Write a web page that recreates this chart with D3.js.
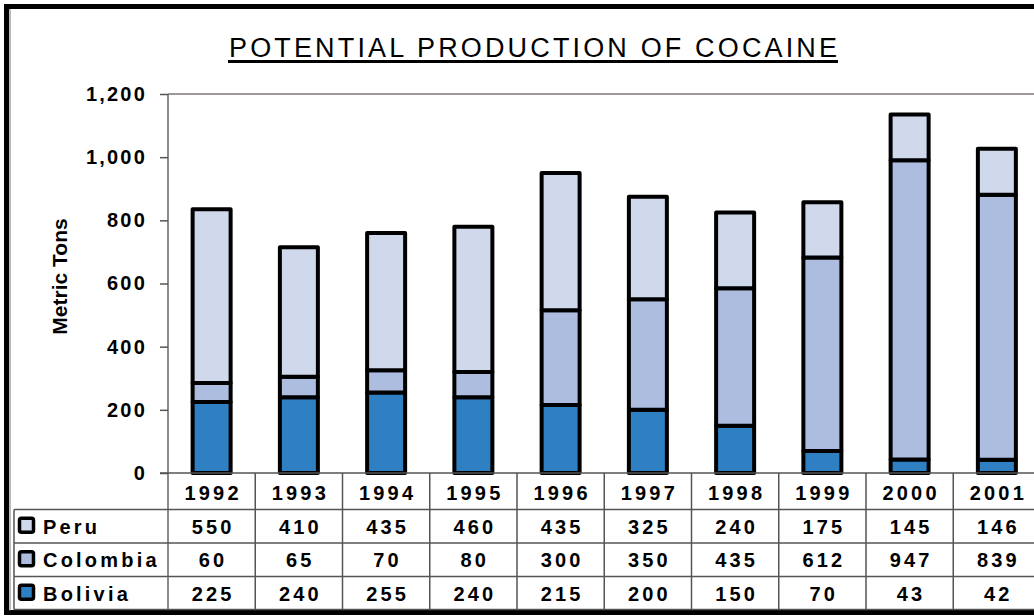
<!DOCTYPE html>
<html>
<head>
<meta charset="utf-8">
<script src="https://cdn.jsdelivr.net/npm/d3@7"></script>
<style>
  body { margin: 0; background: #fff; }
  svg { display: block; font-family: "Liberation Sans", Arial, sans-serif; }
</style>
</head>
<body>
<div id="chart"></div>
<script>
// data
var years = ["1992", "1993", "1994", "1995", "1996", "1997", "1998", "1999", "2000", "2001"];
var peru = [550, 410, 435, 460, 435, 325, 240, 175, 145, 146];
var colombia = [60, 65, 70, 80, 300, 350, 435, 612, 947, 839];
var bolivia = [225, 240, 255, 240, 215, 200, 150, 70, 43, 42];
var yTicks = [0, 200, 400, 600, 800, 1000, 1200];

// table rows top->bottom, stack order bottom->top
var rows = [
  { name: "Peru", values: peru, color: "#d0d8ec" },
  { name: "Colombia", values: colombia, color: "#adbde0" },
  { name: "Bolivia", values: bolivia, color: "#2f80c2" }
];

var W = 1034, H = 616;
var pLeft = 168, pRight = 1040.5, pTop = 94, pBottom = 473;

var svg = d3.select("#chart").append("svg").attr("width", W).attr("height", H);

var x = d3.scaleBand().domain(years).range([pLeft, pRight]).paddingInner(0).paddingOuter(0);
var y = d3.scaleLinear().domain([0, 1200]).range([pBottom, pTop]);

// outer frame
svg.append("rect").attr("x", 6.5).attr("y", 6.5).attr("width", W + 20).attr("height", 606)
  .attr("fill", "none").attr("stroke", "#000").attr("stroke-width", 5);
svg.append("line").attr("x1", 10).attr("x2", 10).attr("y1", 9).attr("y2", 611)
  .attr("stroke", "#777").attr("stroke-width", 1);

// title
svg.append("text").attr("x", 533).attr("y", 57).attr("text-anchor", "middle")
  .attr("font-size", 27).attr("textLength", 608).attr("lengthAdjust", "spacing")
  .text("POTENTIAL PRODUCTION OF COCAINE");
svg.append("line").attr("x1", 228).attr("x2", 838).attr("y1", 61.5).attr("y2", 61.5)
  .attr("stroke", "#000").attr("stroke-width", 3);

// plot frame
svg.append("line").attr("x1", pLeft).attr("x2", pRight).attr("y1", pTop).attr("y2", pTop)
  .attr("stroke", "#a09898").attr("stroke-width", 2);
svg.append("line").attr("x1", pLeft).attr("x2", pLeft).attr("y1", pTop).attr("y2", 609)
  .attr("stroke", "#666").attr("stroke-width", 1.5);

// y axis
var yAxis = d3.axisLeft(y).tickValues(yTicks).tickSize(8).tickFormat(d3.format(","));
var gy = svg.append("g").attr("transform", "translate(" + pLeft + ",0)").call(yAxis);
gy.select(".domain").remove();
gy.selectAll(".tick line").attr("stroke", "#555").attr("stroke-width", 1.5);
gy.selectAll(".tick text").attr("x", -21).attr("font-size", 20).attr("font-weight", "bold")
  .attr("letter-spacing", 2.2).attr("fill", "#000")
  .attr("font-family", "'Liberation Sans', Arial, sans-serif");

svg.append("text").attr("transform", "translate(67," + ((pTop + pBottom) / 2 - 7) + ") rotate(-90)")
  .attr("text-anchor", "middle").attr("font-size", 21).attr("font-weight", "bold")
  .text("Metric Tons");

// stacked bars
var stackData = years.map(function (yr, i) {
  return { year: yr, Bolivia: bolivia[i], Colombia: colombia[i], Peru: peru[i] };
});
var series = d3.stack().keys(["Bolivia", "Colombia", "Peru"])(stackData);
var colorOf = { Bolivia: "#2f80c2", Colombia: "#adbde0", Peru: "#d0d8ec" };
var bw = 38;

svg.append("g").selectAll("g").data(series).enter().append("g")
  .attr("fill", function (s) { return colorOf[s.key]; })
  .selectAll("rect").data(function (s) { return s; }).enter().append("rect")
  .attr("x", function (d) { return x(d.data.year) + x.bandwidth() / 2 - bw / 2; })
  .attr("width", bw)
  .attr("y", function (d) { return y(d[1]); })
  .attr("height", function (d) { return y(d[0]) - y(d[1]); })
  .attr("stroke", "#000").attr("stroke-width", 4).attr("stroke-linejoin", "round");

// x axis line
svg.append("line").attr("x1", 160).attr("x2", pRight).attr("y1", pBottom).attr("y2", pBottom)
  .attr("stroke", "#555").attr("stroke-width", 1.5);

// data table
var rowTop = [509.5, 543, 576.5];
var rowH = 33.3;
var tableLeft = 14;

rowTop.concat([609.5]).forEach(function (ry) {
  svg.append("line").attr("x1", tableLeft).attr("x2", pRight).attr("y1", ry).attr("y2", ry)
    .attr("stroke", "#555").attr("stroke-width", 1.5);
});
svg.append("line").attr("x1", tableLeft).attr("x2", tableLeft).attr("y1", 509.5).attr("y2", 609.5)
  .attr("stroke", "#555").attr("stroke-width", 1.5);
years.forEach(function (yr) {
  svg.append("line").attr("x1", x(yr) + x.bandwidth()).attr("x2", x(yr) + x.bandwidth())
    .attr("y1", pBottom).attr("y2", 609.5).attr("stroke", "#555").attr("stroke-width", 1.5);
});

// year header
svg.append("g").selectAll("text").data(years).enter().append("text")
  .attr("x", function (d) { return x(d) + x.bandwidth() / 2 + 1.5; })
  .attr("y", 500).attr("text-anchor", "middle")
  .attr("font-size", 20).attr("font-weight", "bold").attr("letter-spacing", 3.2)
  .text(function (d) { return d; });

rows.forEach(function (r, ri) {
  var cy = rowTop[ri] + rowH / 2;
  svg.append("rect").attr("x", 19.5).attr("y", cy - 8).attr("width", 14).attr("height", 14)
    .attr("rx", 2).attr("fill", r.color).attr("stroke", "#000").attr("stroke-width", 3.5);
  svg.append("text").attr("x", 43).attr("y", cy + 7.5).attr("font-size", 20)
    .attr("font-weight", "bold").attr("letter-spacing", 3.2).text(r.name);
  svg.append("g").selectAll("text").data(r.values).enter().append("text")
    .attr("x", function (d, i) { return x(years[i]) + x.bandwidth() / 2 + 1.5; })
    .attr("y", cy + 7.5).attr("text-anchor", "middle")
    .attr("font-size", 20).attr("font-weight", "bold").attr("letter-spacing", 3.2)
    .text(function (d) { return d; });
});
</script>
</body>
</html>
